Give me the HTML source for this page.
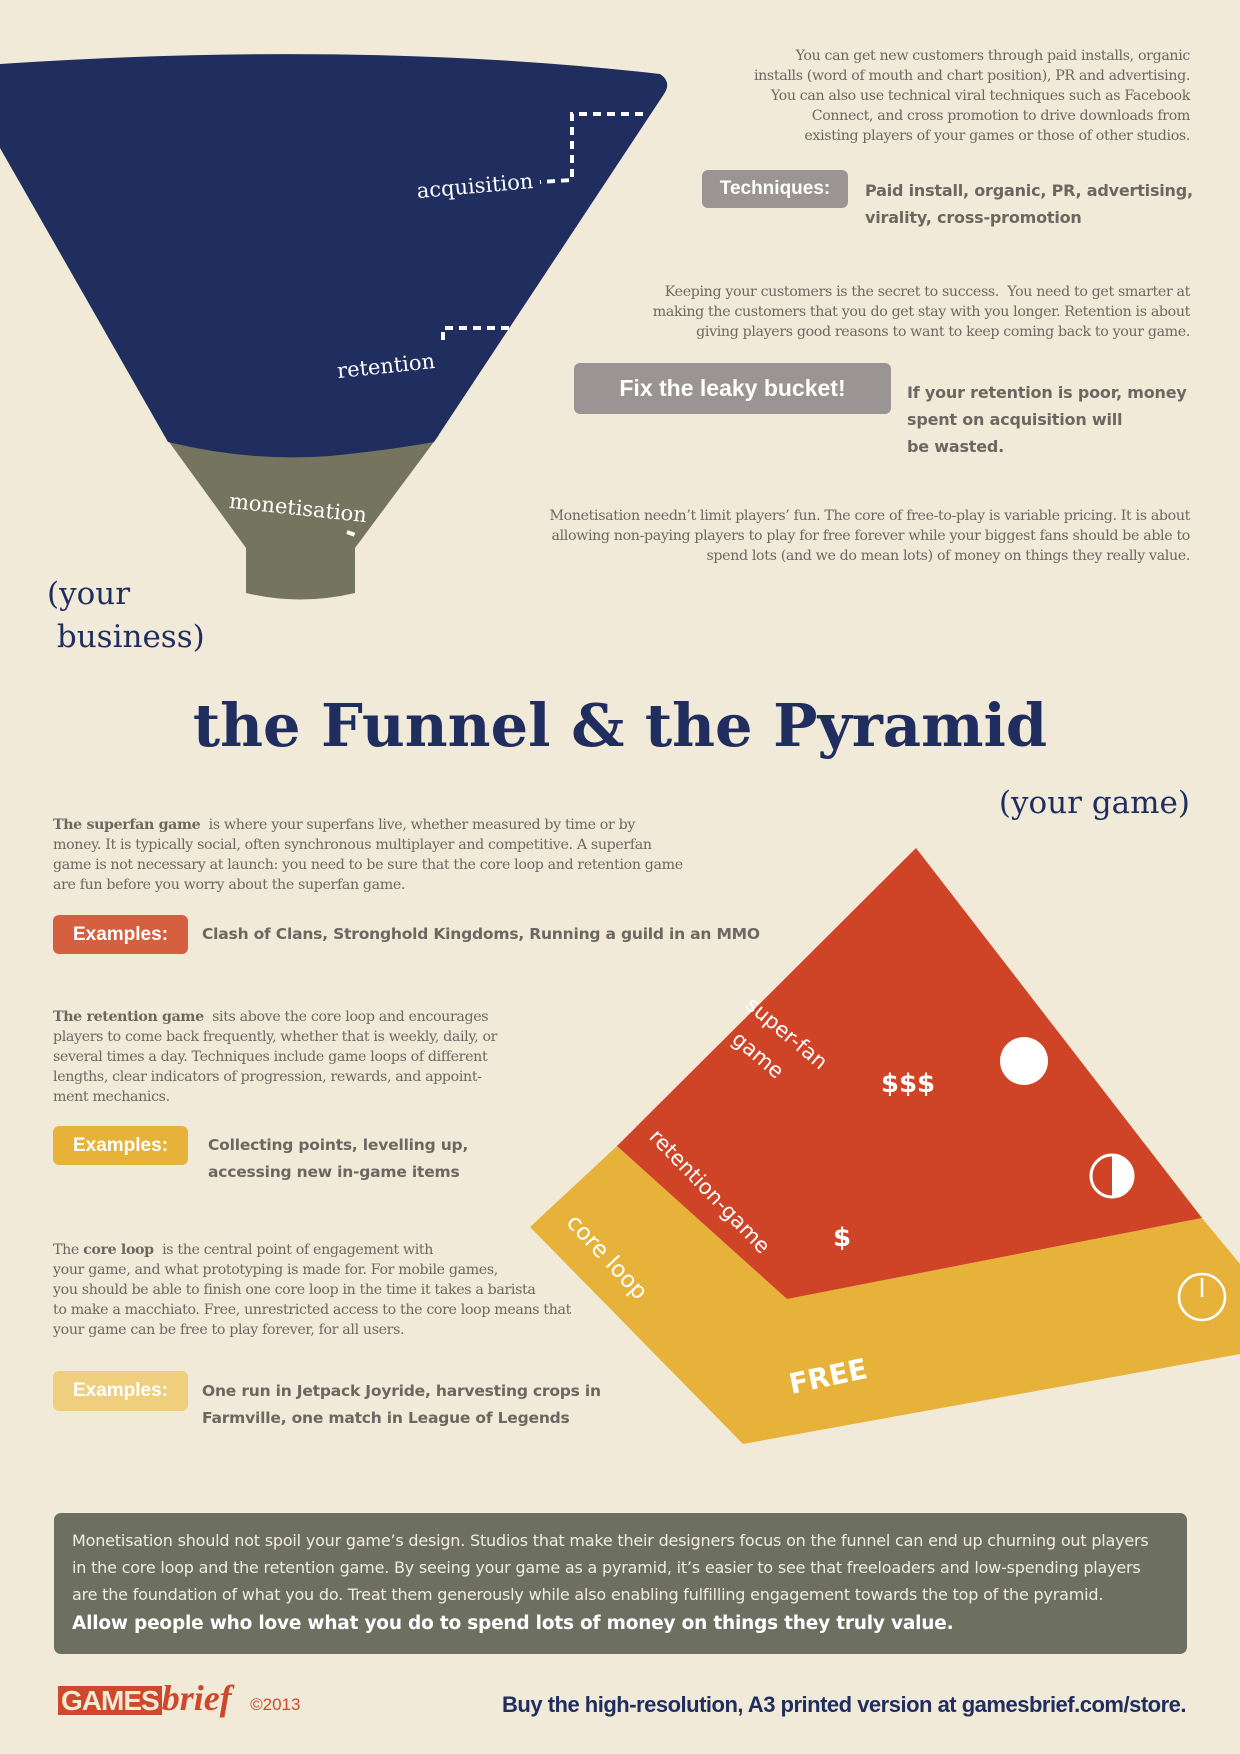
<!DOCTYPE html>
<html><head><meta charset="utf-8">
<style>
*{margin:0;padding:0;box-sizing:border-box}
html,body{width:1240px;height:1754px;overflow:hidden}
body{background:#f1ead8;position:relative;font-family:"DejaVu Serif",serif;color:#6b6862}
.a{position:absolute}
.p{font-size:14.2px;line-height:20px;letter-spacing:-0.35px;white-space:nowrap}
.r{text-align:right}
.b{font-weight:bold}
.box{position:absolute;border-radius:6px;color:#fff;font-family:"Liberation Sans",sans-serif;font-weight:bold;display:flex;align-items:center;justify-content:center}
.ex{font-size:15.5px;color:#6b6862;font-family:"DejaVu Sans",sans-serif;font-weight:bold;line-height:27px;white-space:nowrap;letter-spacing:-0.2px}
</style></head><body>

<svg class="a" style="left:0;top:0" width="1240" height="1754" viewBox="0 0 1240 1754">
 <path d="M164,435 L439,435 L355,548 L355,593 Q300,606 246,593 L246,548 Z" fill="#74745f"/>
 <path d="M0,64 Q360,40 660,74 Q672,82 664,94 L434,442 Q390,450 330,456 Q250,462 168,442 L0,148 Z" fill="#1f2d5f"/>
 <g stroke="#fff" stroke-width="4" stroke-dasharray="8,6" fill="none">
  <path d="M643,114 L572,114 L572,180 L540,182"/>
  <path d="M509,328 L443,328 L443,345"/>
  <path d="M347,532 L358,536"/>
 </g>
 <g fill="#fff" font-family="DejaVu Serif,serif" font-size="21" text-anchor="middle">
  <text x="475" y="193" transform="rotate(-5 475 186)">acquisition</text>
  <text x="386" y="373" transform="rotate(-6 386 366)">retention</text>
  <text x="298" y="515" transform="rotate(6 298 508)">monetisation</text>
 </g>

 <path d="M617,1146 L530,1227 L743,1444 L1240,1354 L1240,1264 L1202,1218 L787,1299 Z" fill="#e6b23a"/>
 <path d="M916,848 L617,1146 L787,1299 L1202,1218 Z" fill="#cf4326"/>
 <g fill="#fff" font-family="DejaVu Sans,sans-serif">
  <text x="786" y="1040" font-size="21" text-anchor="middle" transform="rotate(40 786 1034)">super-fan</text>
  <text x="758" y="1062" font-size="21" text-anchor="middle" transform="rotate(40 758 1055)">game</text>
  <text x="908" y="1092" font-size="26" font-weight="bold" text-anchor="middle">$$$</text>
  <text x="709" y="1198" font-size="21" text-anchor="middle" transform="rotate(46 709 1192)">retention-game</text>
  <text x="842" y="1246" font-size="26" font-weight="bold" text-anchor="middle">$</text>
  <text x="606" y="1264" font-size="23" text-anchor="middle" transform="rotate(47 606 1258)">core loop</text>
  <text x="828" y="1386" font-size="28" font-weight="bold" text-anchor="middle" transform="rotate(-12 828 1376)">FREE</text>
 </g>
 <circle cx="1024" cy="1061" r="24" fill="#fff"/>
 <circle cx="1112" cy="1176" r="21" fill="none" stroke="#fff" stroke-width="3"/>
 <path d="M1112,1176 L1112,1155 A21,21 0 0 1 1133,1176 Z" fill="#fff"/>
 <path d="M1112,1176 L1133,1176 A21,21 0 0 1 1112,1197 Z" fill="#fff"/>
 <circle cx="1202" cy="1297" r="23" fill="none" stroke="#fff" stroke-width="2.5"/>
 <line x1="1202" y1="1297" x2="1202" y2="1278" stroke="#fff" stroke-width="2.5"/>
</svg>

<div class="a p r" style="right:50px;top:46px">You can get new customers through paid installs, organic<br>installs (word of mouth and chart position), PR and advertising.<br>You can also use technical viral techniques such as Facebook<br>Connect, and cross promotion to drive downloads from<br>existing players of your games or those of other studios.</div>
<div class="box" style="left:702px;top:170px;width:146px;height:38px;background:#9a9594;font-size:19px">Techniques:</div>
<div class="a ex" style="left:865px;top:177px;font-size:16px">Paid install, organic, PR, advertising,<br>virality, cross-promotion</div>

<div class="a p r" style="right:50px;top:282px">Keeping your customers is the secret to success.&nbsp; You need to get smarter at<br>making the customers that you do get stay with you longer. Retention is about<br>giving players good reasons to want to keep coming back to your game.</div>
<div class="box" style="left:574px;top:363px;width:317px;height:51px;background:#9a9594;font-size:23px">Fix the leaky bucket!</div>
<div class="a ex" style="left:907px;top:379px;font-size:16px">If your retention is poor, money<br>spent on acquisition will<br>be wasted.</div>

<div class="a p r" style="right:50px;top:506px">Monetisation needn’t limit players’ fun. The core of free-to-play is variable pricing. It is about<br>allowing non-paying players to play for free forever while your biggest fans should be able to<br>spend lots (and we do mean lots) of money on things they really value.</div>

<div class="a" style="left:47px;top:573px;font-size:31px;line-height:43px;color:#1f2d5f">(your<br>&nbsp;business)</div>

<div class="a b" style="left:0;width:1240px;top:684px;text-align:center;font-size:59px;line-height:84px;color:#1f2d5f">the Funnel &amp; the Pyramid</div>

<div class="a r" style="right:50px;top:782px;font-size:31px;line-height:42px;color:#1f2d5f">(your game)</div>

<div class="a p" style="left:53px;top:815px"><b>The superfan game</b>&nbsp; is where your superfans live, whether measured by time or by<br>money. It is typically social, often synchronous multiplayer and competitive. A superfan<br>game is not necessary at launch: you need to be sure that the core loop and retention game<br>are fun before you worry about the superfan game.</div>
<div class="box" style="left:53px;top:915px;width:135px;height:39px;background:#d4603f;font-size:19px">Examples:</div>
<div class="a ex" style="left:202px;top:921px">Clash of Clans, Stronghold Kingdoms, Running a guild in an MMO</div>

<div class="a p" style="left:53px;top:1007px"><b>The retention game</b>&nbsp; sits above the core loop and encourages<br>players to come back frequently, whether that is weekly, daily, or<br>several times a day. Techniques include game loops of different<br>lengths, clear indicators of progression, rewards, and appoint-<br>ment mechanics.</div>
<div class="box" style="left:53px;top:1126px;width:135px;height:39px;background:#e6b23a;font-size:19px">Examples:</div>
<div class="a ex" style="left:208px;top:1132px">Collecting points, levelling up,<br>accessing new in-game items</div>

<div class="a p" style="left:53px;top:1240px">The <b>core loop</b>&nbsp; is the central point of engagement with<br>your game, and what prototyping is made for. For mobile games,<br>you should be able to finish one core loop in the time it takes a barista<br>to make a macchiato. Free, unrestricted access to the core loop means that<br>your game can be free to play forever, for all users.</div>
<div class="box" style="left:53px;top:1371px;width:135px;height:40px;background:#efcf7e;font-size:19px">Examples:</div>
<div class="a ex" style="left:202px;top:1378px">One run in Jetpack Joyride, harvesting crops in<br>Farmville, one match in League of Legends</div>

<div class="a" style="left:54px;top:1513px;width:1133px;height:141px;background:#6d6f61;border-radius:7px;color:#f1ede2;font-family:'DejaVu Sans',sans-serif;padding:14px 18px 0 18px;white-space:nowrap">
 <div style="font-size:16px;line-height:27px;letter-spacing:-0.2px">Monetisation should not spoil your game’s design. Studios that make their designers focus on the funnel can end up churning out players<br>in the core loop and the retention game. By seeing your game as a pyramid, it’s easier to see that freeloaders and low-spending players<br>are the foundation of what you do. Treat them generously while also enabling fulfilling engagement towards the top of the pyramid.</div>
 <div style="font-size:18.5px;line-height:32px;font-weight:bold;color:#fff;letter-spacing:-0.2px">Allow people who love what you do to spend lots of money on things they truly value.</div>
</div>

<div class="a" style="left:58px;top:1684px;height:30px;font-family:'Liberation Sans',sans-serif;color:#d0482b;white-space:nowrap">
 <span style="display:inline-block;background:#d0482b;color:#f1ead8;font-weight:bold;font-size:28px;line-height:29px;padding:0 3px;letter-spacing:-1px">GAMES</span><span style="font-family:'Liberation Serif',serif;font-style:italic;font-weight:bold;font-size:36px;line-height:28px">brief</span>
 <span style="font-size:17px;margin-left:14px">©2013</span>
</div>
<div class="a r" style="right:54px;top:1690px;font-family:'Liberation Sans',sans-serif;font-weight:bold;font-size:22px;line-height:30px;color:#1f2d5f;letter-spacing:-0.5px">Buy the high-resolution, A3 printed version at gamesbrief.com/store.</div>

</body></html>
